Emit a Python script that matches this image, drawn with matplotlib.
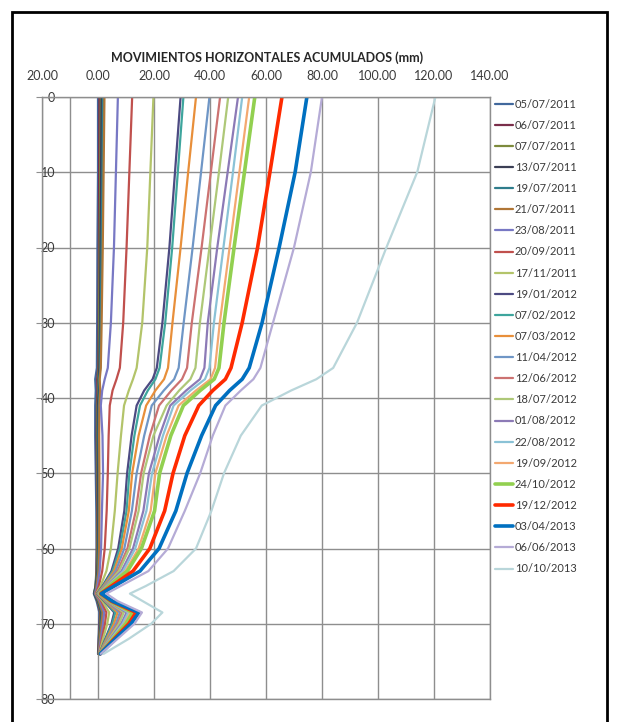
import matplotlib.pyplot as plt
from matplotlib.patches import Rectangle
from matplotlib.ticker import FixedLocator, FuncFormatter

# profundidad (m) de cada lectura del inclinometro
profundidad = [0, 10, 20, 30, 36, 37.5, 39, 41, 45, 50, 55, 60, 63, 65, 66, 67, 68.5, 70, 72, 74]

# movimientos horizontales acumulados (mm) por fecha de lectura
mov_05_07_2011 = [0.0, 0.0, -0.2, -0.3, -0.4, -1.0, -0.8, -1.0, -1.0, -0.8, -0.6, -0.5, -0.6, -0.9, -1.5, -0.5, 0.5, 0.4, 0.2, 0.0]
mov_06_07_2011 = [0.5, 0.4, 0.3, 0.2, 0.1, -0.3, -0.2, -0.4, -0.5, -0.4, -0.3, -0.4, -0.5, -0.8, -1.2, -0.2, 0.8, 0.6, 0.3, 0.1]
mov_07_07_2011 = [1.0, 0.8, 0.6, 0.4, 0.3, 0.0, 0.1, -0.2, -0.3, -0.2, -0.1, -0.2, -0.4, -0.9, -1.3, -0.1, 1.0, 0.8, 0.4, 0.2]
mov_13_07_2011 = [1.3, 1.1, 0.9, 0.7, 0.5, 0.2, 0.3, 0.0, -0.1, 0.0, 0.1, 0.0, -0.2, -0.8, -1.4, 0.0, 1.2, 1.0, 0.5, 0.2]
mov_19_07_2011 = [1.8, 1.6, 1.3, 1.0, 0.8, 0.4, 0.6, 0.3, 0.2, 0.3, 0.3, 0.2, 0.0, -0.6, -1.2, 0.2, 1.4, 1.1, 0.6, 0.3]
mov_21_07_2011 = [2.3, 2.0, 1.7, 1.3, 1.0, 0.6, 0.8, 0.5, 0.4, 0.5, 0.5, 0.4, 0.2, -0.5, -1.0, 0.4, 1.7, 1.3, 0.7, 0.3]
mov_23_08_2011 = [7.1, 6.4, 5.7, 4.6, 3.5, 2.4, 1.5, 1.0, 1.6, 1.8, 1.4, 1.1, 0.6, -0.2, -1.0, 0.8, 2.2, 1.8, 1.0, 0.3]
mov_20_09_2011 = [12.2, 11.2, 10.2, 9.0, 7.8, 6.6, 5.2, 4.2, 3.8, 3.5, 3.1, 2.4, 1.5, 0.3, -0.8, 1.2, 3.0, 2.5, 1.4, 0.4]
mov_17_11_2011 = [19.8, 18.7, 17.6, 15.8, 13.8, 12.5, 11.0, 9.3, 8.2, 7.0, 6.0, 4.6, 3.0, 0.9, -0.6, 1.6, 4.0, 3.3, 1.8, 0.4]
mov_19_01_2012 = [29.5, 27.5, 25.5, 23.0, 21.0, 19.5, 16.5, 13.8, 12.0, 10.4, 9.4, 7.2, 4.8, 1.6, -0.4, 2.2, 5.8, 4.8, 2.6, 0.5]
mov_07_02_2012 = [30.5, 28.5, 26.5, 24.0, 22.0, 20.5, 17.8, 15.0, 13.0, 11.2, 10.2, 7.8, 5.2, 1.8, -0.3, 2.4, 6.2, 5.1, 2.8, 0.5]
mov_07_03_2012 = [35.0, 32.2, 29.5, 26.6, 25.0, 23.6, 20.5, 17.2, 14.5, 12.2, 11.0, 8.5, 5.7, 2.0, -0.2, 2.6, 7.0, 5.7, 3.1, 0.5]
mov_11_04_2012 = [39.8, 36.8, 33.8, 30.6, 28.8, 27.2, 23.5, 19.2, 16.5, 13.8, 12.1, 9.4, 6.3, 2.3, 0.0, 2.9, 7.8, 6.4, 3.5, 0.6]
mov_12_06_2012 = [43.6, 40.3, 37.0, 33.5, 31.8, 30.0, 26.2, 21.8, 18.5, 15.4, 13.5, 10.5, 7.0, 2.6, 0.2, 3.2, 8.6, 7.0, 3.8, 0.6]
mov_18_07_2012 = [46.5, 43.2, 39.8, 36.4, 34.8, 33.0, 29.0, 24.5, 19.8, 16.3, 14.5, 11.2, 7.5, 2.8, 0.3, 3.4, 9.2, 7.5, 4.0, 0.6]
mov_01_08_2012 = [50.0, 46.3, 42.6, 39.2, 38.0, 36.4, 31.5, 25.8, 22.0, 18.2, 16.2, 12.5, 8.4, 3.1, 0.4, 3.7, 10.2, 8.3, 4.4, 0.7]
mov_22_08_2012 = [51.5, 48.2, 44.8, 41.4, 39.8, 38.2, 33.0, 27.0, 23.2, 19.3, 17.3, 13.3, 9.0, 3.3, 0.5, 3.9, 10.8, 8.8, 4.7, 0.7]
mov_19_09_2012 = [54.0, 50.5, 47.0, 43.5, 41.8, 40.2, 35.0, 28.8, 24.5, 20.5, 18.8, 14.5, 9.8, 3.6, 0.6, 4.1, 11.6, 9.4, 5.0, 0.7]
mov_24_10_2012 = [56.0, 52.3, 48.6, 45.0, 43.2, 41.5, 36.5, 30.5, 26.0, 22.0, 20.2, 15.5, 10.5, 3.9, 0.7, 4.3, 12.4, 10.0, 5.3, 0.7]
mov_19_12_2012 = [65.7, 61.4, 57.0, 51.5, 47.5, 45.5, 41.0, 36.0, 31.0, 26.8, 23.8, 18.5, 12.5, 4.8, 1.0, 4.8, 13.6, 11.0, 5.8, 0.8]
mov_03_04_2013 = [74.6, 70.4, 64.7, 58.6, 54.0, 51.5, 47.0, 42.0, 37.0, 31.8, 27.8, 21.8, 15.0, 5.8, 1.2, 5.2, 14.6, 11.8, 6.2, 0.8]
mov_06_06_2013 = [80.0, 76.0, 70.0, 62.5, 58.0, 55.5, 51.0, 45.5, 41.0, 36.5, 31.0, 25.0, 18.0, 8.0, 3.0, 7.0, 15.7, 13.0, 7.0, 1.0]
mov_10_10_2013 = [120.5, 114.0, 103.0, 92.5, 84.0, 78.0, 69.0, 58.5, 51.0, 45.0, 40.5, 35.0, 27.0, 17.0, 11.4, 16.0, 23.0, 19.0, 11.0, 2.0]

fechas = ['05/07/2011', '06/07/2011', '07/07/2011', '13/07/2011', '19/07/2011', '21/07/2011',
          '23/08/2011', '20/09/2011', '17/11/2011', '19/01/2012', '07/02/2012', '07/03/2012',
          '11/04/2012', '12/06/2012', '18/07/2012', '01/08/2012', '22/08/2012', '19/09/2012',
          '24/10/2012', '19/12/2012', '03/04/2013', '06/06/2013', '10/10/2013']

colores = ['#41689c', '#7a2e4a', '#7d8a3c', '#3b3f55', '#2f7d8c', '#b07636',
           '#7878c4', '#c0504d', '#b3c46a', '#4c4a82', '#3ea59d', '#e88f3a',
           '#6f96c6', '#cc7271', '#aec878', '#8c7ab6', '#8ac2d6', '#f3a870',
           '#92d050', '#ff2a00', '#0070c0', '#b5abd6', '#b9d6da']

lecturas = [mov_05_07_2011, mov_06_07_2011, mov_07_07_2011, mov_13_07_2011, mov_19_07_2011,
            mov_21_07_2011, mov_23_08_2011, mov_20_09_2011, mov_17_11_2011, mov_19_01_2012,
            mov_07_02_2012, mov_07_03_2012, mov_11_04_2012, mov_12_06_2012, mov_18_07_2012,
            mov_01_08_2012, mov_22_08_2012, mov_19_09_2012, mov_24_10_2012, mov_19_12_2012,
            mov_03_04_2013, mov_06_06_2013, mov_10_10_2013]

gruesas = {'24/10/2012', '19/12/2012', '03/04/2013'}

plt.rcParams['font.family'] = ['Lato', 'DejaVu Sans']

fig = plt.figure(figsize=(6.19, 7.22), dpi=100)
ax = fig.add_axes([42 / 619, 1 - 699 / 722, 448 / 619, 602 / 722])

for fecha, valores, color in zip(fechas, lecturas, colores):
    lw = 2.6 if fecha in gruesas else 1.6
    ax.plot(valores, profundidad, color=color, lw=lw, label=fecha, solid_capstyle='round')

ax.set_xlim(-20, 140)
ax.set_ylim(80, 0)
ax.xaxis.tick_top()
ax.set_xticks(range(-20, 141, 20))
ax.xaxis.set_minor_locator(FixedLocator([-10]))
ax.xaxis.set_major_formatter(FuncFormatter(lambda v, p: f'{abs(v):.2f}'))
ax.set_yticks(range(0, 81, 10))

gris = '#8e8e8e'
ax.grid(True, which='major', color=gris, lw=1.0)
ax.grid(True, which='minor', axis='x', color=gris, lw=1.0)
for sp in ax.spines.values():
    sp.set_color(gris)
    sp.set_linewidth(1.0)

ax.tick_params(axis='x', which='both', length=0, pad=11, labelsize=9, colors='#3a3a3a')
ax.tick_params(axis='y', length=4, direction='out', color=gris, pad=-13.5,
               labelsize=9, labelcolor='#3a3a3a')

fig.text(267 / 619, 1 - 58 / 722, 'MOVIMIENTOS HORIZONTALES ACUMULADOS (mm)',
         ha='center', va='center', fontsize=9, fontweight='bold', color='#262626')

fig.legend(loc='upper left', bbox_to_anchor=(495 / 619, 1 - 98.5 / 722), frameon=False,
           fontsize=8, handlelength=1.6, handletextpad=0.2, labelspacing=0.912,
           borderaxespad=0, borderpad=0, labelcolor='#3a3a3a')

fig.patches.append(Rectangle((12 / 619, -0.05), 595 / 619, 1.05 - 12 / 722,
                             transform=fig.transFigure, fill=False, lw=2, edgecolor='black'))

fig.savefig('out.png', dpi=100)
